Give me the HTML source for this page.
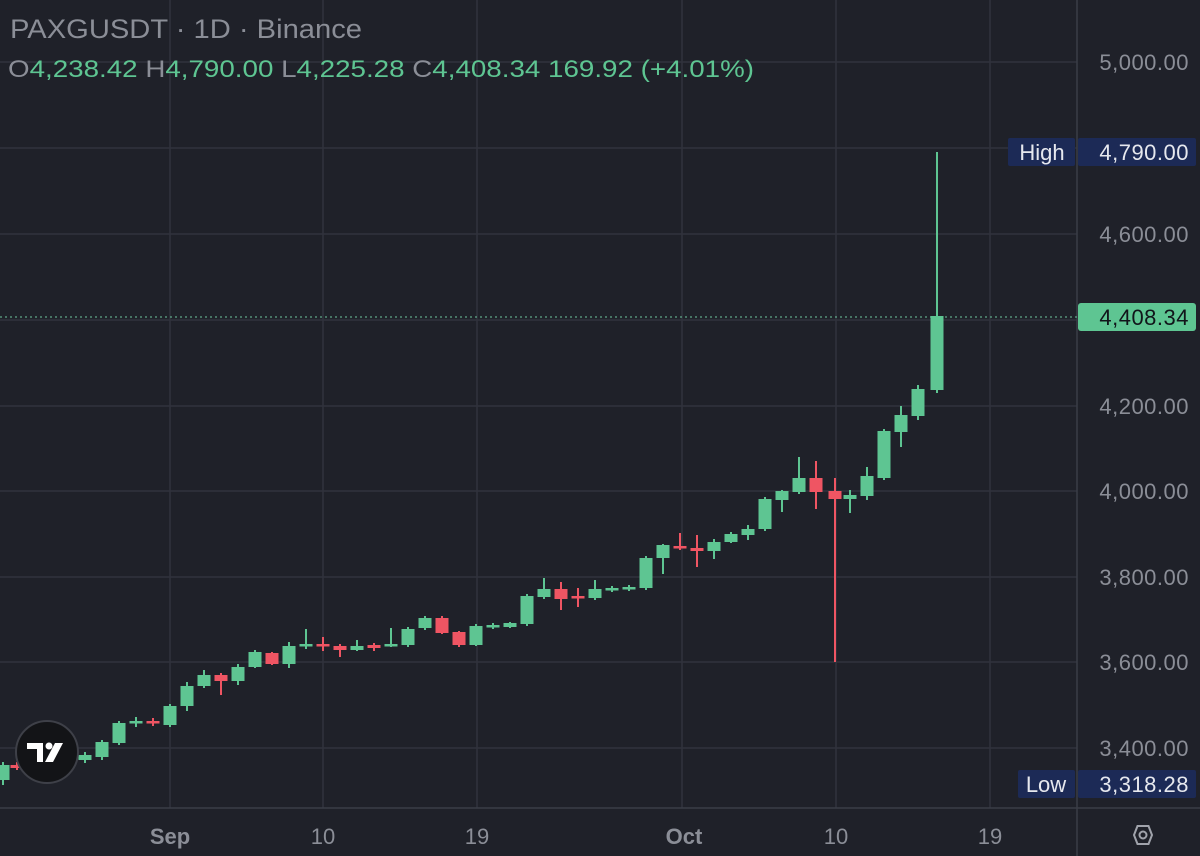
<!DOCTYPE html>
<html><head><meta charset="utf-8"><style>
html,body{margin:0;padding:0;background:#1f2129;}
svg{display:block;font-family:"Liberation Sans",sans-serif;}
</style></head><body>
<svg width="1200" height="856" viewBox="0 0 1200 856" xmlns="http://www.w3.org/2000/svg">
<rect width="1200" height="856" fill="#1f2129"/>
<g stroke="#30333d" stroke-width="1.5">
<line x1="0" y1="62" x2="1077" y2="62"/>
<line x1="0" y1="148" x2="1077" y2="148"/>
<line x1="0" y1="234" x2="1077" y2="234"/>
<line x1="0" y1="320" x2="1077" y2="320"/>
<line x1="0" y1="406" x2="1077" y2="406"/>
<line x1="0" y1="491" x2="1077" y2="491"/>
<line x1="0" y1="577" x2="1077" y2="577"/>
<line x1="0" y1="662" x2="1077" y2="662"/>
<line x1="0" y1="748" x2="1077" y2="748"/>
<line x1="170" y1="0" x2="170" y2="808"/>
<line x1="323" y1="0" x2="323" y2="808"/>
<line x1="477" y1="0" x2="477" y2="808"/>
<line x1="682" y1="0" x2="682" y2="808"/>
<line x1="836" y1="0" x2="836" y2="808"/>
<line x1="990" y1="0" x2="990" y2="808"/>
</g>
<line x1="1077" y1="0" x2="1077" y2="856" stroke="#3a3d47" stroke-width="1.5"/>
<line x1="0" y1="808" x2="1200" y2="808" stroke="#3a3d47" stroke-width="1.5"/>
<line x1="0" y1="317" x2="1077" y2="317" stroke="#6fc9a0" stroke-width="1" stroke-dasharray="2,3"/>
<g stroke-width="2">
<g stroke="#5ec592" fill="#5ec592">
<line x1="3" y1="762" x2="3" y2="785"/><rect x="-3.5" y="765" width="13" height="15" stroke="none"/>
<line x1="34" y1="760" x2="34" y2="770"/><rect x="27.5" y="763" width="13" height="4" stroke="none"/>
<line x1="68" y1="754" x2="68" y2="765"/><rect x="61.5" y="757" width="13" height="5" stroke="none"/>
<line x1="85" y1="752" x2="85" y2="763"/><rect x="78.5" y="755" width="13" height="5" stroke="none"/>
<line x1="102" y1="740" x2="102" y2="760"/><rect x="95.5" y="742" width="13" height="15" stroke="none"/>
<line x1="119" y1="721" x2="119" y2="745"/><rect x="112.5" y="723" width="13" height="20" stroke="none"/>
<line x1="136" y1="717" x2="136" y2="727"/><rect x="129.5" y="721" width="13" height="2.5" stroke="none"/>
<line x1="170" y1="704" x2="170" y2="727"/><rect x="163.5" y="706" width="13" height="19" stroke="none"/>
<line x1="187" y1="682" x2="187" y2="711"/><rect x="180.5" y="686" width="13" height="20" stroke="none"/>
<line x1="204" y1="670" x2="204" y2="688"/><rect x="197.5" y="675" width="13" height="11" stroke="none"/>
<line x1="238" y1="664" x2="238" y2="685"/><rect x="231.5" y="667" width="13" height="14" stroke="none"/>
<line x1="255" y1="650" x2="255" y2="668"/><rect x="248.5" y="652" width="13" height="15" stroke="none"/>
<line x1="289" y1="642" x2="289" y2="668"/><rect x="282.5" y="646" width="13" height="18" stroke="none"/>
<line x1="306" y1="629" x2="306" y2="649"/><rect x="299.5" y="644" width="13" height="2.5" stroke="none"/>
<line x1="357" y1="640" x2="357" y2="651"/><rect x="350.5" y="646" width="13" height="4" stroke="none"/>
<line x1="391" y1="628" x2="391" y2="647"/><rect x="384.5" y="644" width="13" height="2.5" stroke="none"/>
<line x1="408" y1="627" x2="408" y2="647"/><rect x="401.5" y="629" width="13" height="16" stroke="none"/>
<line x1="425" y1="616" x2="425" y2="630"/><rect x="418.5" y="618" width="13" height="10" stroke="none"/>
<line x1="476" y1="624" x2="476" y2="646"/><rect x="469.5" y="626" width="13" height="19" stroke="none"/>
<line x1="493" y1="623" x2="493" y2="629"/><rect x="486.5" y="625" width="13" height="2.5" stroke="none"/>
<line x1="510" y1="622" x2="510" y2="628"/><rect x="503.5" y="623" width="13" height="4" stroke="none"/>
<line x1="527" y1="594" x2="527" y2="626"/><rect x="520.5" y="596" width="13" height="28" stroke="none"/>
<line x1="544" y1="578" x2="544" y2="599"/><rect x="537.5" y="589" width="13" height="8" stroke="none"/>
<line x1="595" y1="580" x2="595" y2="600"/><rect x="588.5" y="589" width="13" height="9" stroke="none"/>
<line x1="612" y1="586" x2="612" y2="592"/><rect x="605.5" y="588" width="13" height="2.5" stroke="none"/>
<line x1="629" y1="585" x2="629" y2="591"/><rect x="622.5" y="587" width="13" height="2.5" stroke="none"/>
<line x1="646" y1="556" x2="646" y2="590"/><rect x="639.5" y="558" width="13" height="30" stroke="none"/>
<line x1="663" y1="544" x2="663" y2="574"/><rect x="656.5" y="545" width="13" height="13" stroke="none"/>
<line x1="714" y1="539" x2="714" y2="559"/><rect x="707.5" y="542" width="13" height="9" stroke="none"/>
<line x1="731" y1="532" x2="731" y2="543"/><rect x="724.5" y="534" width="13" height="8" stroke="none"/>
<line x1="748" y1="525" x2="748" y2="540"/><rect x="741.5" y="529" width="13" height="6" stroke="none"/>
<line x1="765" y1="497" x2="765" y2="531"/><rect x="758.5" y="499" width="13" height="30" stroke="none"/>
<line x1="782" y1="490" x2="782" y2="512"/><rect x="775.5" y="491" width="13" height="9" stroke="none"/>
<line x1="799" y1="457" x2="799" y2="494"/><rect x="792.5" y="478" width="13" height="14" stroke="none"/>
<line x1="850" y1="490" x2="850" y2="513"/><rect x="843.5" y="495" width="13" height="4" stroke="none"/>
<line x1="867" y1="467" x2="867" y2="500"/><rect x="860.5" y="476" width="13" height="20" stroke="none"/>
<line x1="884" y1="429" x2="884" y2="480"/><rect x="877.5" y="431" width="13" height="47" stroke="none"/>
<line x1="901" y1="406" x2="901" y2="447"/><rect x="894.5" y="415" width="13" height="17" stroke="none"/>
<line x1="918" y1="385" x2="918" y2="420"/><rect x="911.5" y="389" width="13" height="27" stroke="none"/>
<line x1="937" y1="152" x2="937" y2="393"/><rect x="930.5" y="316" width="13" height="74" stroke="none"/>
</g>
<g stroke="#ef5563" fill="#ef5563">
<line x1="17" y1="762" x2="17" y2="770"/><rect x="10.5" y="765" width="13" height="3" stroke="none"/>
<line x1="51" y1="758" x2="51" y2="768"/><rect x="44.5" y="762" width="13" height="3" stroke="none"/>
<line x1="153" y1="718" x2="153" y2="726"/><rect x="146.5" y="721" width="13" height="2.5" stroke="none"/>
<line x1="221" y1="673" x2="221" y2="695"/><rect x="214.5" y="675" width="13" height="6" stroke="none"/>
<line x1="272" y1="652" x2="272" y2="665"/><rect x="265.5" y="653" width="13" height="11" stroke="none"/>
<line x1="323" y1="637" x2="323" y2="651"/><rect x="316.5" y="644" width="13" height="2.5" stroke="none"/>
<line x1="340" y1="644" x2="340" y2="657"/><rect x="333.5" y="646" width="13" height="4" stroke="none"/>
<line x1="374" y1="643" x2="374" y2="651"/><rect x="367.5" y="645" width="13" height="3" stroke="none"/>
<line x1="442" y1="616" x2="442" y2="634"/><rect x="435.5" y="618" width="13" height="15" stroke="none"/>
<line x1="459" y1="631" x2="459" y2="647"/><rect x="452.5" y="632" width="13" height="13" stroke="none"/>
<line x1="561" y1="582" x2="561" y2="610"/><rect x="554.5" y="589" width="13" height="10" stroke="none"/>
<line x1="578" y1="588" x2="578" y2="607"/><rect x="571.5" y="596" width="13" height="2.5" stroke="none"/>
<line x1="680" y1="533" x2="680" y2="550"/><rect x="673.5" y="546" width="13" height="2.5" stroke="none"/>
<line x1="697" y1="535" x2="697" y2="567"/><rect x="690.5" y="548" width="13" height="3" stroke="none"/>
<line x1="816" y1="461" x2="816" y2="509"/><rect x="809.5" y="478" width="13" height="14" stroke="none"/>
<line x1="835" y1="478" x2="835" y2="662"/><rect x="828.5" y="491" width="13" height="8" stroke="none"/>
</g>
</g>
<circle cx="47" cy="752" r="31" fill="#131417" stroke="#3e4048" stroke-width="2"/>
<path d="M27 743 H43 V762 H37 V749 H27 Z" fill="#fff"/>
<circle cx="49" cy="746" r="3.5" fill="#fff"/>
<path d="M55 743 H63 L53 762 H45 Z" fill="#fff"/>
<text x="10" y="38" font-size="27" fill="#8b8e97" textLength="352" lengthAdjust="spacingAndGlyphs">PAXGUSDT · 1D · Binance</text>
<text x="8" y="77" font-size="24" fill="#8b8e97" textLength="746" lengthAdjust="spacingAndGlyphs">O<tspan fill="#5ec592">4,238.42</tspan> H<tspan fill="#5ec592">4,790.00</tspan> L<tspan fill="#5ec592">4,225.28</tspan> C<tspan fill="#5ec592">4,408.34  169.92 (+4.01%)</tspan></text>
<g font-size="22" fill="#8b8e97" text-anchor="end" letter-spacing="0.5">
<text x="1189" y="70">5,000.00</text>
<text x="1189" y="242">4,600.00</text>
<text x="1189" y="414">4,200.00</text>
<text x="1189" y="499">4,000.00</text>
<text x="1189" y="585">3,800.00</text>
<text x="1189" y="670">3,600.00</text>
<text x="1189" y="756">3,400.00</text>
</g>
<rect x="1008" y="138" width="67" height="28" rx="2" fill="#1c2a56"/>
<rect x="1078" y="138" width="118" height="28" rx="2" fill="#1c2a56"/>
<text x="1042" y="160" font-size="22" fill="#e6e8ee" text-anchor="middle">High</text>
<text x="1189" y="160" font-size="22" fill="#e6e8ee" text-anchor="end" letter-spacing="0.5">4,790.00</text>
<rect x="1018" y="770" width="57" height="28" rx="2" fill="#1c2a56"/>
<rect x="1078" y="770" width="118" height="28" rx="2" fill="#1c2a56"/>
<text x="1046" y="792" font-size="22" fill="#e6e8ee" text-anchor="middle">Low</text>
<text x="1189" y="792" font-size="22" fill="#e6e8ee" text-anchor="end" letter-spacing="0.5">3,318.28</text>
<rect x="1078" y="303" width="118" height="28" rx="3" fill="#5ec592"/>
<text x="1189" y="325" font-size="22" fill="#11151a" text-anchor="end" letter-spacing="0.5">4,408.34</text>
<g font-size="22" fill="#8b8e97" text-anchor="middle">
<text x="170" y="844" font-weight="bold">Sep</text>
<text x="323" y="844">10</text>
<text x="477" y="844">19</text>
<text x="684" y="844" font-weight="bold">Oct</text>
<text x="836" y="844">10</text>
<text x="990" y="844">19</text>
</g>
<polygon points="1134,835 1137.5,826 1148.5,826 1152,835 1148.5,844 1137.5,844" fill="none" stroke="#a0a3ab" stroke-width="2"/>
<circle cx="1143" cy="835" r="3.5" fill="none" stroke="#a0a3ab" stroke-width="2"/>
</svg>
</body></html>
